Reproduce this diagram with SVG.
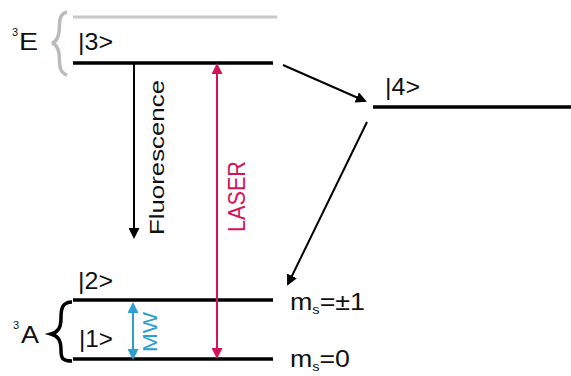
<svg xmlns="http://www.w3.org/2000/svg" width="571" height="376" viewBox="0 0 571 376">
<style>
text{font-family:"Liberation Sans",Arial,sans-serif;fill:#111}
.lvl{stroke:#000;stroke-width:3.5;fill:none}
.lbl{font-size:24px}
.sup{font-size:11px}
.sub{font-size:13px}
</style>
<defs>
<marker id="ak" markerWidth="11" markerHeight="11" refX="9" refY="5.5" orient="auto" markerUnits="userSpaceOnUse"><path d="M0,0 L11,5.5 L0,11 Z" fill="#000"/></marker>
<marker id="ar" markerWidth="11" markerHeight="11" refX="9" refY="5.5" orient="auto-start-reverse" markerUnits="userSpaceOnUse"><path d="M0,0 L11,5.5 L0,11 Z" fill="#d4145a"/></marker>
<marker id="ac" markerWidth="11" markerHeight="11" refX="9" refY="5.5" orient="auto-start-reverse" markerUnits="userSpaceOnUse"><path d="M0,0 L11,5.5 L0,11 Z" fill="#2a9fd0"/></marker>
</defs>
<rect width="571" height="376" fill="#fff"/>
<g id="E3">
<text x="12" y="36" class="sup">3</text>
<text x="19" y="50" class="lbl" textLength="19" lengthAdjust="spacingAndGlyphs">E</text>
<path d="M67,12 C58,14 60,24 59,32 C58,39 56,42 52,43 C56,44 58,47 59,54 C60,63 58,72 67,75" fill="none" stroke="#bbb" stroke-width="3.5"/>
</g>
<g id="upper"><line x1="73" y1="17" x2="277" y2="17" stroke="#c8c8c8" stroke-width="3"/></g>
<g id="s3">
<line class="lvl" x1="73" y1="63" x2="273" y2="63"/>
<text x="78" y="50" class="lbl" textLength="35" lengthAdjust="spacingAndGlyphs">|3&gt;</text>
</g>
<g id="s4">
<line class="lvl" x1="373" y1="107" x2="571" y2="107"/>
<text x="385" y="95" class="lbl" textLength="35" lengthAdjust="spacingAndGlyphs">|4&gt;</text>
</g>
<g id="s2">
<line class="lvl" x1="73" y1="300" x2="273" y2="300"/>
<text x="78" y="289" class="lbl" textLength="35" lengthAdjust="spacingAndGlyphs">|2&gt;</text>
<text x="290" y="310" class="lbl" textLength="75" lengthAdjust="spacingAndGlyphs">m<tspan class="sub" dy="4">s</tspan><tspan dy="-4">=±1</tspan></text>
</g>
<g id="s1">
<line class="lvl" x1="73" y1="359" x2="273" y2="359"/>
<text x="79" y="347" class="lbl" textLength="34" lengthAdjust="spacingAndGlyphs">|1&gt;</text>
<text x="290" y="367" class="lbl" textLength="60" lengthAdjust="spacingAndGlyphs">m<tspan class="sub" dy="4">s</tspan><tspan dy="-4">=0</tspan></text>
</g>
<g id="A3">
<text x="13" y="329" class="sup">3</text>
<text x="21" y="343" class="lbl" textLength="18" lengthAdjust="spacingAndGlyphs">A</text>
<path d="M72,302 C62,302 61,309 61,318 C61,328 58,332 51,334 C58,336 61,340 61,350 C61,358 62,361 72,361" fill="none" stroke="#000" stroke-width="3.5"/>
</g>
<g id="connectors">
<line x1="134" y1="64" x2="134" y2="237" stroke="#000" stroke-width="2" marker-end="url(#ak)"/>
<line x1="283" y1="65" x2="365" y2="101" stroke="#000" stroke-width="2" marker-end="url(#ak)"/>
<line x1="367" y1="122" x2="288" y2="284" stroke="#000" stroke-width="2" marker-end="url(#ak)"/>
<line x1="217" y1="65" x2="217" y2="357" stroke="#d4145a" stroke-width="2" marker-start="url(#ar)" marker-end="url(#ar)"/>
<line x1="133" y1="304" x2="133" y2="358" stroke="#2a9fd0" stroke-width="2" marker-start="url(#ac)" marker-end="url(#ac)"/>
<text transform="translate(164,235) rotate(-90)" font-size="20" textLength="155" lengthAdjust="spacingAndGlyphs">Fluorescence</text>
<text transform="translate(245,232) rotate(-90)" font-size="24" textLength="71" lengthAdjust="spacingAndGlyphs" style="fill:#d4145a">LASER</text>
<text transform="translate(157,352) rotate(-90)" font-size="20" textLength="40" lengthAdjust="spacingAndGlyphs" style="fill:#2a9fd0">MW</text>
</g>
</svg>
